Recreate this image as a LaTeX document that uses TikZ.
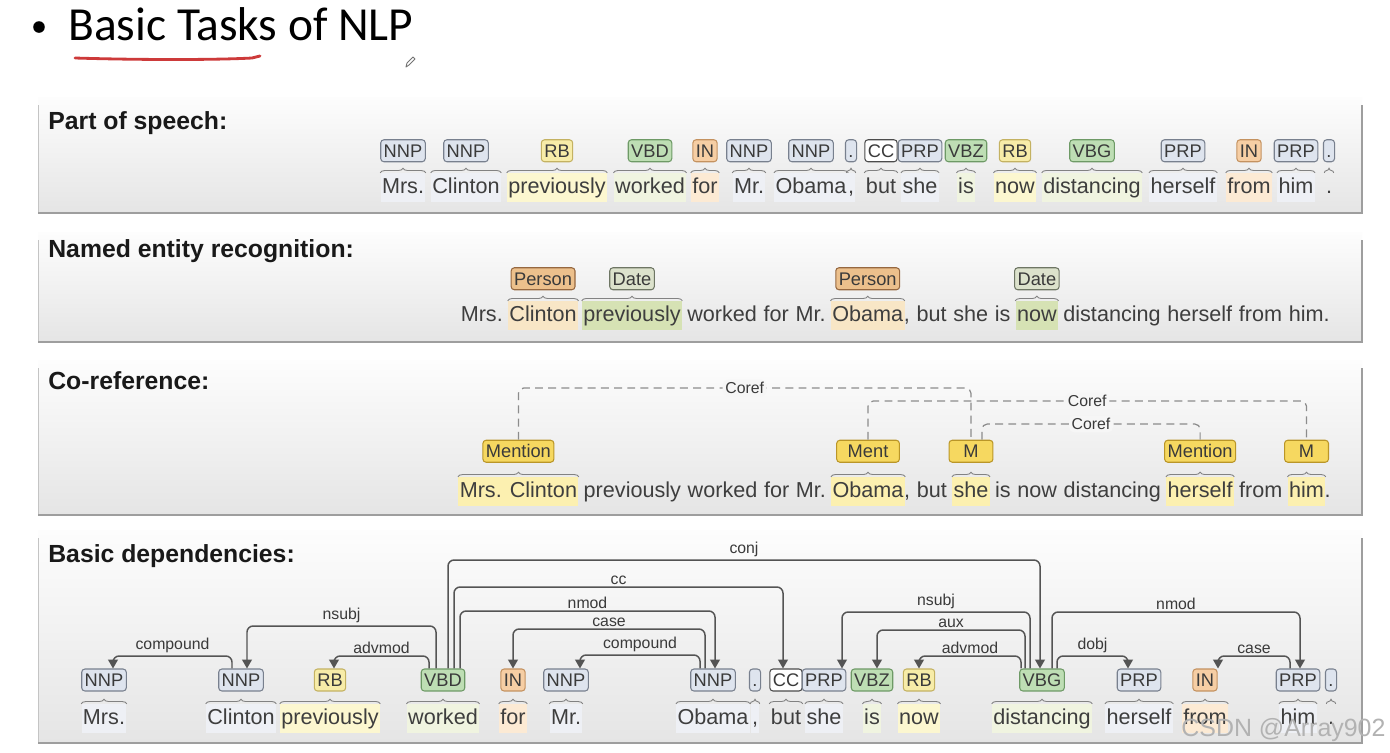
\documentclass[tikz,border=0pt]{standalone}
\usepackage{fontspec}
\setmainfont{Liberation Sans}
\newfontfamily\titlefont{Carlito}
\usetikzlibrary{positioning, calc, arrows.meta, decorations.pathreplacing}

\definecolor{panelTop}{RGB}{253,253,253}
\definecolor{panelBot}{RGB}{229,229,229}
\definecolor{panelRim}{RGB}{158,158,158}
\definecolor{panelSide}{RGB}{196,196,196}
\definecolor{wordgray}{RGB}{62,62,62}
\definecolor{taggray}{RGB}{58,58,58}
\definecolor{arcgray}{RGB}{84,84,84}
\definecolor{corefgray}{RGB}{140,140,140}
\definecolor{bracegray}{RGB}{130,130,130}
\definecolor{labelbg}{RGB}{246,246,246}
\definecolor{nnpfill}{RGB}{222,228,238}
\definecolor{nnpdraw}{RGB}{120,128,142}
\definecolor{rbfill}{RGB}{247,236,168}
\definecolor{rbdraw}{RGB}{196,178,98}
\definecolor{vbfill}{RGB}{190,222,180}
\definecolor{vbdraw}{RGB}{110,154,102}
\definecolor{infill}{RGB}{246,206,164}
\definecolor{indraw}{RGB}{196,146,96}
\definecolor{perfill}{RGB}{236,192,140}
\definecolor{perdraw}{RGB}{150,104,64}
\definecolor{datefill}{RGB}{220,226,204}
\definecolor{datedraw}{RGB}{110,118,100}
\definecolor{mentfill}{RGB}{246,216,96}
\definecolor{mentdraw}{RGB}{186,150,40}
\definecolor{hlnnp}{RGB}{238,240,245}
\definecolor{hlrb}{RGB}{252,247,208}
\definecolor{hlvb}{RGB}{240,244,224}
\definecolor{hlin}{RGB}{252,234,212}
\definecolor{hlper}{RGB}{248,230,198}
\definecolor{hldate}{RGB}{214,226,180}
\definecolor{hlment}{RGB}{252,240,176}
\definecolor{redmark}{RGB}{205,58,58}

\tikzset{
	heading/.style={font=\fontsize{14.1}{16}\selectfont\bfseries, text=black!90, anchor=base west, inner sep=0pt}
}
\tikzset{
	word/.style={font=\fontsize{12.3}{14}\selectfont, text=wordgray, text height=9pt, text depth=3pt, inner ysep=2.3pt, inner xsep=0.8pt}
}
\tikzset{
	tagbox/.style={draw, rounded corners=1.8pt, line width=0.6pt, font=\fontsize{10.4}{12}\selectfont, text=taggray, minimum height=12.5pt, text height=7.4pt, text depth=0pt, inner ysep=0pt, inner xsep=1.7pt},
	nnptag/.style={tagbox, fill=nnpfill, draw=nnpdraw},
	rbtag/.style={tagbox, fill=rbfill, draw=rbdraw},
	vbtag/.style={tagbox, fill=vbfill, draw=vbdraw},
	intag/.style={tagbox, fill=infill, draw=indraw},
	cctag/.style={tagbox, fill=white, draw=black!70},
	pertag/.style={tagbox, fill=perfill, draw=perdraw},
	datetag/.style={tagbox, fill=datefill, draw=datedraw},
	menttag/.style={tagbox, fill=mentfill, draw=mentdraw}
}
\tikzset{
	wbrace/.style={decorate, decoration={brace, amplitude=2.6pt}, draw=bracegray, line width=0.5pt},
	dep/.style={draw=arcgray, line width=0.85pt, rounded corners=3.5pt, -{Triangle[width=5.5pt,length=5pt]}},
	deplabel/.style={font=\fontsize{9}{10}\selectfont, text=taggray, above, inner sep=1.2pt},
	coref/.style={draw=corefgray, line width=0.7pt, dash pattern=on 4.5pt off 3pt, rounded corners=3pt},
	coreflabel/.style={font=\fontsize{9}{10}\selectfont, text=taggray, fill=labelbg, inner sep=1.5pt}
}

\newcommand{\wsp}{1.8pt}
\newcommand{\panelbox}[2]{%
  \shade[top color=panelTop, bottom color=panelBot] (38,#1) rectangle (1362,#2);
  \draw[panelSide, line width=0.5pt] (38,#1+8) -- (38,#2);
  \draw[panelRim, line width=1pt] (38,#2) -- (1362,#2) -- (1362,#1+8);
}
\newcommand{\deparc}[6]{%
  \coordinate (s) at ([shift={(#2,0)}]#1.north);
  \coordinate (t) at ([shift={(#4,0)}]#3.north);
  \draw[dep] (s) -- (s |- 0,#5) -- node[deplabel]{#6} (t |- 0,#5) -- (t);
}

\begin{document}
\begin{tikzpicture}[x=0.02cm, y=-0.02cm]
\fill[white] (0,0) rectangle (1390,752);
\useasboundingbox (0,0) rectangle (1390,752);

\node[circle, fill=black, inner sep=0pt, minimum size=6.6pt] (bullet) at (39,27) {};
\node[font=\titlefont\fontsize{27}{30}\selectfont, anchor=base west, inner sep=0pt] (title) at (68,40) {Basic Tasks of NLP};
\draw[redmark, line width=1.6pt, line cap=round] (75,58) .. controls (140,60) and (215,60) .. (252,58) -- (260,56);
\draw[black!55, line width=0.5pt, line join=round] (406,67) -- (407,63) -- (413,57) -- (415,59) -- (409,65) -- cycle;

\panelbox{97}{213}
\panelbox{232}{342}
\panelbox{360}{515}
\panelbox{530}{743}

\node[heading] (h1) at (48,129) {Part of speech:};
\node[heading] (h2) at (48,257) {Named entity recognition:};
\node[heading] (h3) at (48,389) {Co-reference:};
\node[heading] (h4) at (48,562) {Basic dependencies:};

% part of speech
\foreach \x/\w/\g/\s/\h [count=\i] in {403/Mrs./NNP/nnptag/hlnnp, 466/Clinton/NNP/nnptag/hlnnp, 557/previously/RB/rbtag/hlrb, 650/worked/VBD/vbtag/hlvb, 705/for/IN/intag/hlin, 749/Mr./NNP/nnptag/hlnnp, 811/Obama/NNP/nnptag/hlnnp, 851/{,}/{.}/nnptag/hlnnp, 881/but/CC/cctag/none, 920/she/PRP/nnptag/hlnnp, 966/is/VBZ/vbtag/hlvb, 1015/now/RB/rbtag/hlrb, 1092/distancing/VBG/vbtag/hlvb, 1183/herself/PRP/nnptag/hlnnp, 1249/from/IN/intag/hlin, 1296/him/PRP/nnptag/hlnnp, 1329/./{.}/nnptag/none}{
  \node[word, anchor=base, fill=\h] (p\i) at (\x,193) {\w};
  \node[\s, above=6pt of p\i] (pt\i) {\g};
  \draw[wbrace] (p\i.north west) -- (p\i.north east);
}

% named entities
\node[word, anchor=base west] (n1) at (459,321) {Mrs.};
\node[word, base right=\wsp of n1, fill=hlper] (n2) {Clinton};
\node[word, base right=\wsp of n2, fill=hldate] (n3) {previously};
\node[word, base right=\wsp of n3] (n4) {worked};
\node[word, base right=\wsp of n4] (n5) {for};
\node[word, base right=\wsp of n5] (n6) {Mr.};
\node[word, base right=\wsp of n6, fill=hlper] (n7) {Obama};
\node[word, base right=-1.6pt of n7] (n8) {,};
\node[word, base right=\wsp of n8] (n9) {but};
\node[word, base right=\wsp of n9] (n10) {she};
\node[word, base right=\wsp of n10] (n11) {is};
\node[word, base right=\wsp of n11, fill=hldate] (n12) {now};
\node[word, base right=\wsp of n12] (n13) {distancing};
\node[word, base right=\wsp of n13] (n14) {herself};
\node[word, base right=\wsp of n14] (n15) {from};
\node[word, base right=\wsp of n15] (n16) {him.};
\node[pertag, above=6pt of n2] (e1) {Person};
\node[datetag, above=6pt of n3] (e2) {Date};
\node[pertag, above=6pt of n7] (e3) {Person};
\node[datetag, above=6pt of n12] (e4) {Date};
\foreach \n in {n2, n3, n7, n12}
  \draw[wbrace] (\n.north west) -- (\n.north east);

% co-reference
\node[word, anchor=base west, fill=hlment] (c1) at (458,497) {Mrs. Clinton};
\node[word, base right=\wsp of c1] (c2) {previously};
\node[word, base right=\wsp of c2] (c3) {worked};
\node[word, base right=\wsp of c3] (c4) {for};
\node[word, base right=\wsp of c4] (c5) {Mr.};
\node[word, base right=\wsp of c5, fill=hlment] (c6) {Obama};
\node[word, base right=-1.6pt of c6] (c7) {,};
\node[word, base right=\wsp of c7] (c8) {but};
\node[word, base right=\wsp of c8, fill=hlment] (c9) {she};
\node[word, base right=\wsp of c9] (c10) {is};
\node[word, base right=\wsp of c10] (c11) {now};
\node[word, base right=\wsp of c11] (c12) {distancing};
\node[word, base right=\wsp of c12, fill=hlment] (c13) {herself};
\node[word, base right=\wsp of c13] (c14) {from};
\node[word, base right=\wsp of c14, fill=hlment] (c15) {him};
\node[word, base right=-1.6pt of c15] (c16) {.};
\node[menttag, above=8pt of c1] (m1) {Mention};
\node[menttag, above=8pt of c6, minimum width=35.7pt] (m2) {Ment};
\node[menttag, above=8pt of c9, minimum width=25pt] (m3) {M};
\node[menttag, above=8pt of c13] (m4) {Mention};
\node[menttag, above=8pt of c15, minimum width=25pt] (m5) {M};
\foreach \n in {c1, c6, c9, c13, c15}
  \draw[wbrace] (\n.north west) -- (\n.north east);
\coordinate (m3r) at ([shift={(11,0)}]m3.north);
\draw[coref] (m1.north) -- (m1 |- 0,388) -- node[coreflabel]{Coref} (m3 |- 0,388) -- (m3.north);
\draw[coref] (m2.north) -- (m2 |- 0,401) -- node[coreflabel]{Coref} (m5 |- 0,401) -- (m5.north);
\draw[coref] (m3r) -- (m3r |- 0,424) -- node[coreflabel]{Coref} (m4 |- 0,424) -- (m4.north);

% dependencies
\foreach \x/\w/\g/\s/\h [count=\i] in {104/Mrs./NNP/nnptag/hlnnp, 241/Clinton/NNP/nnptag/hlnnp, 330/previously/RB/rbtag/hlrb, 443/worked/VBD/vbtag/hlvb, 513/for/IN/intag/hlin, 566/Mr./NNP/nnptag/hlnnp, 713/Obama/NNP/nnptag/hlnnp, 755/{,}/{.}/nnptag/hlnnp, 786/but/CC/cctag/none, 824/she/PRP/nnptag/hlnnp, 872/is/VBZ/vbtag/hlvb, 919/now/RB/rbtag/hlrb, 1042/distancing/VBG/vbtag/hlvb, 1139/herself/PRP/nnptag/hlnnp, 1205/from/IN/intag/hlin, 1298/him/PRP/nnptag/hlnnp, 1331/./{.}/nnptag/none}{
  \node[word, anchor=base, fill=\h] (d\i) at (\x,724) {\w};
  \node[\s, above=7pt of d\i] (dt\i) {\g};
  \draw[wbrace] (d\i.north west) -- (d\i.north east);
}
\deparc{dt2}{-9}{dt1}{9}{656}{compound}
\deparc{dt4}{-7}{dt2}{6}{626}{nsubj}
\deparc{dt4}{-14}{dt3}{4}{656}{advmod}
\deparc{dt4}{5}{dt13}{-2}{560}{conj}
\deparc{dt4}{11}{dt9}{-3}{587}{cc}
\deparc{dt4}{17}{dt7}{2}{611}{nmod}
\deparc{dt7}{-8}{dt5}{0}{629}{case}
\deparc{dt7}{-13}{dt6}{14}{655}{compound}
\deparc{dt13}{-12}{dt10}{18}{612}{nsubj}
\deparc{dt13}{-17}{dt11}{5}{630}{aux}
\deparc{dt13}{-21}{dt12}{0}{656}{advmod}
\deparc{dt13}{10}{dt16}{2}{612}{nmod}
\deparc{dt13}{15}{dt14}{-11}{656}{dobj}
\deparc{dt16}{-8}{dt15}{13}{656}{case}

\node[font=\fontsize{14.2}{16}\selectfont, text=black!30, anchor=base west, inner sep=0pt] (mark) at (1181,736) {CSDN @Array902};
\end{tikzpicture}
\end{document}
